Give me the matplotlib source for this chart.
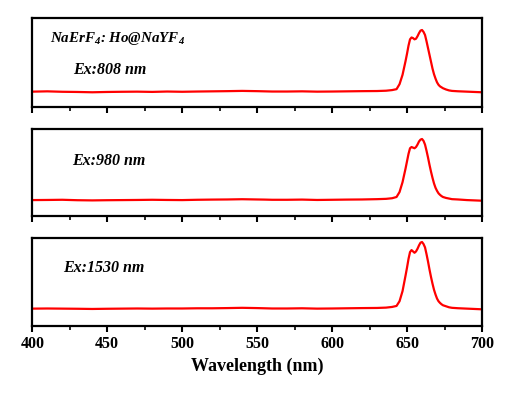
import matplotlib
matplotlib.use("Agg")
import matplotlib.pyplot as plt

plt.rcParams['font.family'] = ['Liberation Serif', 'DejaVu Serif']
plt.rcParams['mathtext.fontset'] = 'custom'
plt.rcParams['mathtext.rm'] = 'Liberation Serif:bold:italic'
plt.rcParams['mathtext.it'] = 'Liberation Serif:bold:italic'
plt.rcParams['mathtext.bf'] = 'Liberation Serif:bold:italic'

# ---- data, normalized intensity ----
wavelength = [400, 410, 420, 430, 440, 450, 460, 470, 480, 490, 500, 510, 520,
              530, 535, 540, 545, 550, 555, 560, 570, 580, 590, 600, 610, 620,
              630, 636, 640, 643, 645, 647, 649, 650, 651, 652, 653, 654, 655,
              656, 657, 658, 659, 660, 661, 662, 663, 664, 665, 666, 667, 668,
              669, 670, 671, 672, 673, 674, 676, 678, 680, 684, 690, 695, 700]

int_808 = [0.01, 0.015, 0.008, 0.005, 0.0, 0.005, 0.008, 0.01, 0.006, 0.012, 0.008, 0.012, 0.015,
           0.018, 0.02, 0.022, 0.02, 0.018, 0.015, 0.012, 0.012, 0.015, 0.01, 0.012, 0.015, 0.018,
           0.02, 0.025, 0.035, 0.05, 0.13, 0.28, 0.50, 0.62, 0.75, 0.85, 0.88, 0.87, 0.85,
           0.86, 0.90, 0.95, 0.99, 1.0, 0.97, 0.92, 0.82, 0.71, 0.60, 0.49, 0.38, 0.29,
           0.22, 0.16, 0.12, 0.095, 0.08, 0.065, 0.045, 0.03, 0.022, 0.016, 0.01, 0.005, 0.0]

int_980 = [0.01, 0.012, 0.015, 0.008, 0.005, 0.008, 0.01, 0.012, 0.015, 0.012, 0.01, 0.015, 0.018,
           0.02, 0.022, 0.024, 0.022, 0.02, 0.018, 0.015, 0.015, 0.018, 0.012, 0.015, 0.018, 0.02,
           0.025, 0.03, 0.04, 0.06, 0.14, 0.30, 0.52, 0.64, 0.76, 0.85, 0.87, 0.86, 0.85,
           0.87, 0.91, 0.96, 0.99, 1.0, 0.97, 0.91, 0.81, 0.70, 0.58, 0.47, 0.37, 0.28,
           0.21, 0.16, 0.12, 0.095, 0.075, 0.06, 0.045, 0.035, 0.025, 0.02, 0.01, 0.005, 0.0]

int_1530 = [0.01, 0.012, 0.01, 0.008, 0.005, 0.008, 0.01, 0.012, 0.01, 0.012, 0.012, 0.015, 0.015,
            0.018, 0.02, 0.022, 0.02, 0.018, 0.015, 0.012, 0.012, 0.015, 0.01, 0.012, 0.015, 0.018,
            0.02, 0.025, 0.035, 0.05, 0.12, 0.27, 0.50, 0.62, 0.75, 0.85, 0.88, 0.86, 0.84,
            0.86, 0.90, 0.95, 0.99, 1.0, 0.97, 0.92, 0.82, 0.71, 0.59, 0.48, 0.38, 0.29,
            0.22, 0.16, 0.12, 0.095, 0.075, 0.06, 0.045, 0.03, 0.022, 0.016, 0.01, 0.005, 0.0]

series = [int_808, int_980, int_1530]
labels = ["Ex:808 nm", "Ex:980 nm", "Ex:1530 nm"]
xticks = [400, 450, 500, 550, 600, 650, 700]

# ---- layout ----
fig = plt.figure(figsize=(5.11, 3.95), dpi=100)
left, width = 0.0632, 0.880
panels = [(0.7284, 0.2248), (0.4519, 0.2215), (0.1759, 0.2208)]
ylims = [(-0.241, 1.185), (-0.256, 1.162), (-0.241, 1.055)]
label_pos = [(0.09, 0.42), (0.088, 0.64), (0.069, 0.66)]

for i, (b, h) in enumerate(panels):
    ax = fig.add_axes([left, b, width, h])
    ax.plot(wavelength, series[i], color='#ff0000', lw=1.6)
    ax.set_xlim(400, 700)
    ax.set_ylim(*ylims[i])
    ax.set_yticks([])
    ax.set_xticks(xticks)
    ax.set_xticks([425, 475, 525, 575, 625, 675], minor=True)
    ax.tick_params(axis='x', which='major', direction='out', length=4.5, width=1.5,
                   labelsize=11.5, pad=3)
    ax.tick_params(axis='x', which='minor', direction='out', length=3.2, width=1.2)
    for s in ax.spines.values():
        s.set_linewidth(1.6)
    if i < 2:
        ax.tick_params(axis='x', which='both', labelbottom=False)
    else:
        for t in ax.get_xticklabels():
            t.set_fontweight('bold')
        ax.set_xlabel("Wavelength (nm)", fontsize=13, fontweight='bold', labelpad=4)
    ax.text(label_pos[i][0], label_pos[i][1], labels[i], transform=ax.transAxes,
            fontsize=11.5, fontweight='bold', fontstyle='italic', va='center', ha='left')
    if i == 0:
        ax.text(0.039, 0.78, r"NaErF$_{4}$: Ho@NaYF$_{4}$", transform=ax.transAxes,
                fontsize=10.8, fontweight='bold', fontstyle='italic', va='center', ha='left')

fig.savefig("out.png", dpi=100)
